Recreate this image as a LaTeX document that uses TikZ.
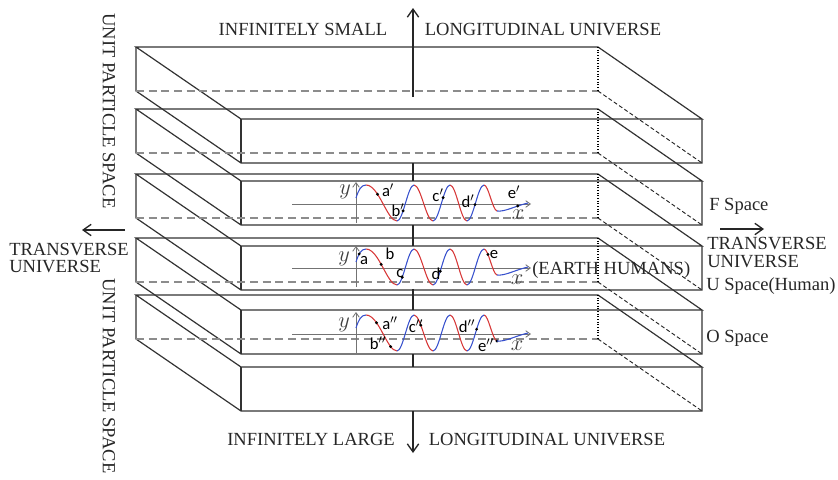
\documentclass[tikz,border=0pt]{standalone}
\usepackage{fontspec}
\setmainfont{Liberation Serif}
\newfontfamily\ptfont{Carlito}
\usetikzlibrary{arrows.meta}
\definecolor{waveblue}{RGB}{55,80,205}
\definecolor{wavered}{RGB}{215,55,55}

\begin{document}
\begin{tikzpicture}[x=0.75pt,y=-0.75pt,
  edge/.style={black!80, line width=0.9pt},
  backdash/.style={black!45, line width=0.8pt, dash pattern=on 6pt off 3.5pt},
  sidedash/.style={black!85, line width=0.7pt, dash pattern=on 3pt off 1.8pt},
  backdot/.style={black, line width=0.8pt, dash pattern=on 0.8pt off 1.2pt},
  bigarrow/.style={black!85, line width=1pt, -{Straight Barb[length=6pt,width=8.5pt]}},
  axis/.style={black!55, line width=0.6pt, -{Straight Barb[length=3.5pt,width=5pt]}},
  wblue/.style={waveblue, line width=0.8pt},
  wred/.style={wavered, line width=0.8pt},
  dot/.style={circle, fill=black, inner sep=0pt, minimum size=2.4pt},
  caps/.style={font=\fontsize{13.9}{15}\selectfont, text=black!85, inner sep=0pt},
  pt/.style={font=\ptfont\fontsize{12.5}{13}\selectfont, inner sep=0pt},
  var/.style={font=\fontsize{12}{12}\selectfont, scale=1.4, text=black!75, inner sep=0pt}]
\useasboundingbox (0,0) rectangle (838,479);
\foreach \yb in {47,109,174,238,295}{
  \draw[edge] (136,\yb) -- (598,\yb) -- (702,\yb+72) -- (241,\yb+72) -- cycle;
  \draw[edge] (136,\yb) -- (136,\yb+44) -- (241,\yb+116) -- (702,\yb+116) -- (702,\yb+72);
  \draw[edge] (241,\yb+72) -- (241,\yb+116);
  \draw[backdash] (136,\yb+44) -- (598,\yb+44);
  \draw[sidedash] (598,\yb+44) -- (702,\yb+116);
  \draw[backdot] (598,\yb) -- (598,\yb+44);
}
\coordinate (upS) at (413,97);
\coordinate (upE) at (413,8);
\coordinate (dnS) at (413,411);
\coordinate (dnE) at (413,453);
\coordinate (ltS) at (125,230);
\coordinate (ltE) at (82,230);
\coordinate (rtS) at (720,229);
\coordinate (rtE) at (764,229);
\draw[bigarrow] (upS) -- (upE);
\draw[bigarrow] (dnS) -- (dnE);
\draw[bigarrow] (ltS) -- (ltE);
\draw[bigarrow] (rtS) -- (rtE);
\foreach \a/\b in {163/181,225/246,289/310,354/367} \draw[black!85, line width=1pt] (413,\a) -- (413,\b);

\node[caps, anchor=base] (small) at (303,35) {INFINITELY SMALL};
\node[caps, anchor=base] (longt) at (543,35) {LONGITUDINAL UNIVERSE};
\node[caps, anchor=base] (large) at (311,445.5) {INFINITELY LARGE};
\node[caps, anchor=base] (longb) at (547,445.5) {LONGITUDINAL UNIVERSE};
\node[caps, rotate=-90] (unitt) at (109,111) {UNIT PARTICLE SPACE};
\node[caps, rotate=-90] (unitb) at (109,376) {UNIT PARTICLE SPACE};
\node[caps, anchor=base west] (transl) at (9,255) {TRANSVERSE};
\node[caps, anchor=base west] (univl) at (9,272) {UNIVERSE};
\node[caps, anchor=base west] (transr) at (707,249) {TRANSVERSE};
\node[caps, anchor=base west] (univr) at (707,267) {UNIVERSE};
\node[caps, anchor=base west] (fsp) at (709,210) {F Space};
\node[caps, anchor=base west] (usp) at (706,290) {U Space(Human)};
\node[caps, anchor=base west] (osp) at (706,342) {O Space};
\node[caps, anchor=base west] (earth) at (532,274) {(EARTH HUMANS)};

\begin{scope}[shift={(0,204)}]
\draw[axis] (292,0) -- (531,0);
\draw[axis] (356,19) -- (356,-22);
\draw[wred] (366,-19) .. controls (379,-19) and (387,17) .. (397,17) node[dot,pos=.33] (fa) {}
  (414,-19) .. controls (420.9,-19) and (426.1,17) .. (433,17)
  (450,-19) .. controls (456.2,-19) and (460.8,17) .. (467,17)
  (484,-19) .. controls (488.5,-19) and (492.5,6) .. (497,7);
\draw[wblue] (356,-6) .. controls (358.5,-14) and (361,-19) .. (366,-19)
  (397,17) .. controls (403.2,17) and (407.8,-19) .. (414,-19) node[dot,pos=.35] (fb) {}
  (433,17) .. controls (439.2,17) and (443.8,-19) .. (450,-19) node[dot,pos=.6] (fc) {}
  (467,17) .. controls (473.2,17) and (477.8,-19) .. (484,-19) node[dot,pos=.47] (fd) {}
  (497,7) .. controls (505,8) and (515,2) .. (528,-1) node[dot,pos=.72] (fe) {};
\node[var] (fy) at (345,-12) {$y$};
\node[var] (fx) at (518,11) {$x$};
\node[pt] (fla) at (388,-14) {a$'$};
\node[pt] (flb) at (398,6) {b$'$};
\node[pt] (flc) at (438,-9) {c$'$};
\node[pt] (fld) at (468,-3) {d$'$};
\node[pt] (fle) at (514,-12) {e$'$};
\end{scope}

\begin{scope}[shift={(0,268)}]
\draw[axis] (292,0) -- (531,0);
\draw[axis] (356,19) -- (356,-22);
\draw[wred] (366,-19) .. controls (379,-19) and (387,17) .. (397,17) node[dot,pos=.45] (ub) {}
  (414,-19) .. controls (420.9,-19) and (426.1,17) .. (433,17)
  (450,-19) .. controls (456.2,-19) and (460.8,17) .. (467,17)
  (484,-19) .. controls (488.5,-19) and (492.5,6) .. (497,7) node[dot,pos=.3] (ue) {};
\draw[wblue] (356,-6) .. controls (358.5,-14) and (361,-19) .. (366,-19) node[dot,pos=.4] (ua) {}
  (397,17) .. controls (403.2,17) and (407.8,-19) .. (414,-19) node[dot,pos=.3] (uc) {}
  (433,17) .. controls (439.2,17) and (443.8,-19) .. (450,-19) node[dot,pos=.42] (ud) {}
  (467,17) .. controls (473.2,17) and (477.8,-19) .. (484,-19)
  (497,7) .. controls (505,8) and (515,2) .. (528,-1);
\node[var] (uy) at (344,-9) {$y$};
\node[var] (ux) at (517,12) {$x$};
\node[pt] (ula) at (364,-7) {a};
\node[pt] (ulb) at (390,-14) {b};
\node[pt] (ulc) at (400,6) {c};
\node[pt] (uld) at (436,6) {d};
\node[pt] (ule) at (494,-13) {e};
\end{scope}

\begin{scope}[shift={(0,334)}]
\draw[axis] (292,0) -- (531,0);
\draw[axis] (356,19) -- (356,-22);
\draw[wred] (366,-19) .. controls (379,-19) and (387,17) .. (397,17) node[dot,pos=.3] (oa) {} node[dot,pos=.78] (ob) {}
  (414,-19) .. controls (420.9,-19) and (426.1,17) .. (433,17) node[dot,pos=.35] (oc) {}
  (450,-19) .. controls (456.2,-19) and (460.8,17) .. (467,17)
  (484,-19) .. controls (488.5,-19) and (492.5,6) .. (497,7) node[dot,pos=1] (oe) {};
\draw[wblue] (356,-6) .. controls (358.5,-14) and (361,-19) .. (366,-19)
  (397,17) .. controls (403.2,17) and (407.8,-19) .. (414,-19)
  (433,17) .. controls (439.2,17) and (443.8,-19) .. (450,-19)
  (467,17) .. controls (473.2,17) and (477.8,-19) .. (484,-19) node[dot,pos=.57] (od) {}
  (497,7) .. controls (505,8) and (515,2) .. (528,-1);
\node[var] (oy) at (344,-9) {$y$};
\node[var] (ox) at (517,12) {$x$};
\node[pt] (ola) at (390,-11) {a$''$};
\node[pt] (olb) at (378,9) {b$''$};
\node[pt] (olc) at (416,-8) {c$''$};
\node[pt] (old) at (467,-8) {d$''$};
\node[pt] (ole) at (486,11) {e$''$};
\end{scope}
\end{tikzpicture}
\end{document}
